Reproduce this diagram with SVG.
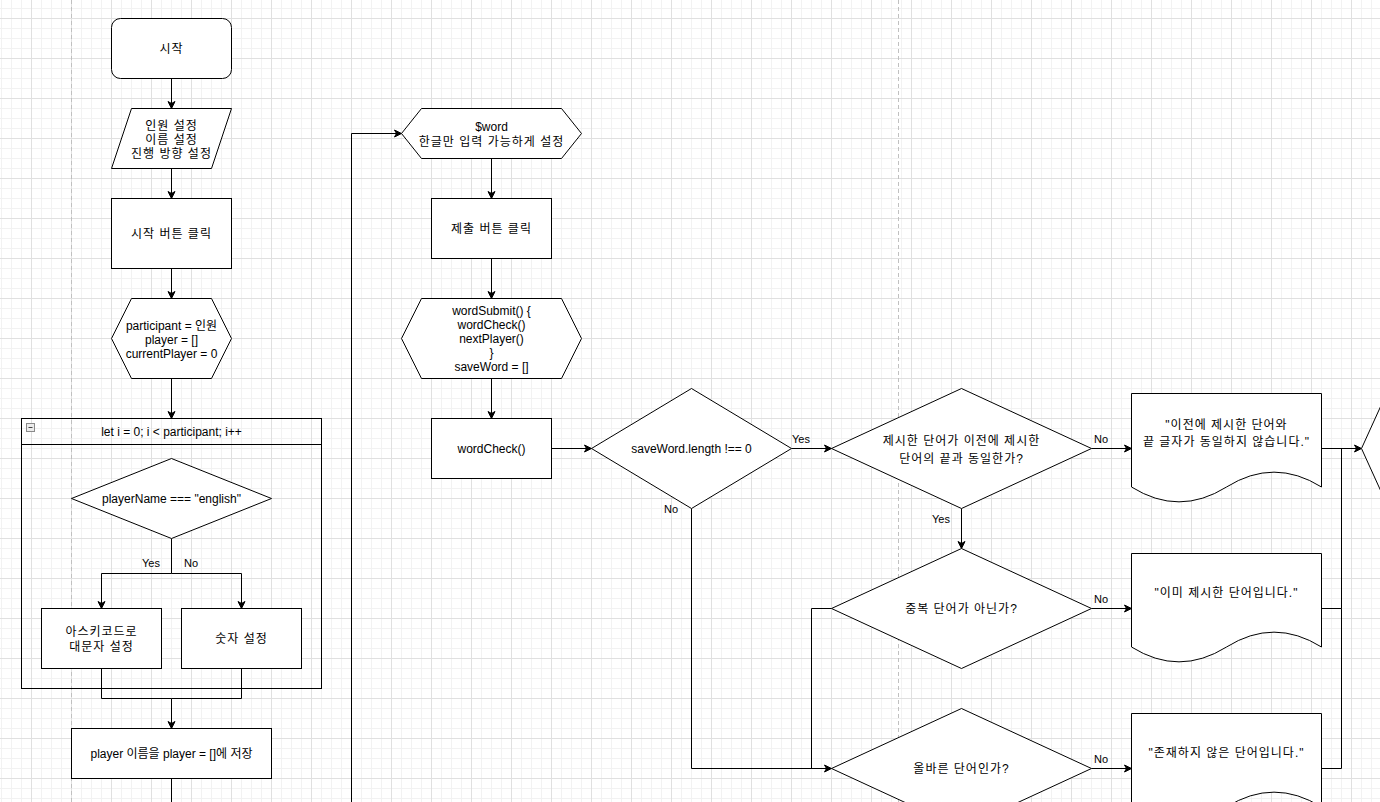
<svg xmlns="http://www.w3.org/2000/svg" width="1380" height="802" viewBox="0 0 1380 802">
<defs>
<pattern id="grid" x="31" y="18" width="40" height="40" patternUnits="userSpaceOnUse">
<path d="M10.5 0V40M20.5 0V40M30.5 0V40M0 10.5H40M0 20.5H40M0 30.5H40" stroke="#f2f2f2" stroke-width="1" fill="none"/>
<path d="M0.5 0V40M0 0.5H40" stroke="#e0e0e0" stroke-width="1" fill="none"/>
</pattern>
<marker id="arr" markerUnits="userSpaceOnUse" markerWidth="9" markerHeight="9" refX="7.5" refY="4" orient="auto" overflow="visible">
<path d="M0.5 0.5L7.5 4L0.5 7.5L2.5 4Z" fill="#000" stroke="#000" stroke-width="1"/>
</marker>
<style>
.n{fill:#fff;stroke:#000;stroke-width:1}
.e{fill:none;stroke:#000;stroke-width:1}
.a{marker-end:url(#arr)}
.t{font-family:"Liberation Sans","Noto Sans CJK KR",sans-serif;font-size:12px;fill:#000;text-anchor:middle}
.k{letter-spacing:1px}
.l{font-family:"Liberation Sans","Noto Sans CJK KR",sans-serif;font-size:11px;fill:#000;text-anchor:middle}
.pb{stroke:#c0c0c0;stroke-width:1;stroke-dasharray:4 3;fill:none}
</style>
</defs>
<rect x="0" y="0" width="1380" height="802" fill="#fff"/>
<rect x="0" y="0" width="1380" height="802" fill="url(#grid)"/>
<path class="pb" d="M71.5 0V802M898.5 0V802"/>

<g id="connectors">
<path class="e a" d="M171.5 78.5V108.5"/>
<path class="e a" d="M171.5 168.5V198.5"/>
<path class="e a" d="M171.5 268.5V298.5"/>
<path class="e a" d="M171.5 378.5V418.5"/>
<path class="e a" d="M171.5 538.5V573.5H101.5V608.5"/>
<path class="e a" d="M171.5 573.5H241.5V608.5"/>
<path class="e a" d="M101.5 668.5V698.5H171.5V728.5"/>
<path class="e" d="M241.5 668.5V698.5H171.5"/>
<path class="e" d="M171.5 778.5V802"/>
<path class="e a" d="M351.5 802V133.5H401.5"/>
<path class="e a" d="M491.5 158.5V198.5"/>
<path class="e a" d="M491.5 258.5V298.5"/>
<path class="e a" d="M491.5 378.5V418.5"/>
<path class="e a" d="M551.5 448.5H591.5"/>
<path class="e a" d="M791.5 448.5H831.5"/>
<path class="e a" d="M1091.5 448.5H1131.5"/>
<path class="e a" d="M961.5 508.5V548.5"/>
<path class="e a" d="M1091.5 608.5H1131.5"/>
<path class="e a" d="M691.5 508.5V768.5H831.5"/>
<path class="e" d="M831.5 608.5H811.5V768.5"/>
<path class="e a" d="M1091.5 768.5H1131.5"/>
<path class="e a" d="M1321.5 448.5H1361.5"/>
<path class="e" d="M1321.5 608.5H1341.5V448.5"/>
<path class="e" d="M1321.5 768.5H1341.5V608.5"/>
<text class="l" x="151" y="567">Yes</text>
<text class="l" x="191" y="567">No</text>
<text class="l" x="801" y="443">Yes</text>
<text class="l" x="1101" y="443">No</text>
<text class="l" x="941" y="523">Yes</text>
<text class="l" x="671" y="513">No</text>
<text class="l" x="1101" y="603">No</text>
<text class="l" x="1101" y="763">No</text>
</g>

<g id="start">
<rect class="n" x="111.5" y="18.5" width="120" height="60" rx="9" ry="9"/>
<text class="t k" x="171.5" y="53">시작</text>
</g>
<g id="input">
<polygon class="n" points="131.5,108.5 231.5,108.5 211.5,168.5 111.5,168.5"/>
<text class="t k"><tspan x="171.5" y="130">인원 설정</tspan><tspan x="171.5" y="144">이름 설정</tspan><tspan x="171.5" y="158">진행 방향 설정</tspan></text>
</g>
<g id="startBtn">
<rect class="n" x="111.5" y="198.5" width="120" height="70"/>
<text class="t k" x="171.5" y="238">시작 버튼 클릭</text>
</g>
<g id="init">
<polygon class="n" points="131.5,298.5 211.5,298.5 231.5,338.5 211.5,378.5 131.5,378.5 111.5,338.5"/>
<text class="t"><tspan x="171.5" y="329.5">participant = 인원</tspan><tspan x="171.5" y="343.5">player = []</tspan><tspan x="171.5" y="357.5">currentPlayer = 0</tspan></text>
</g>
<g id="loop">
<rect x="21.5" y="418.5" width="300" height="270" fill="none" stroke="#000"/>
<path d="M21.5 444.5H321.5" stroke="#000" fill="none"/>
<rect x="26.5" y="423.5" width="8" height="8" fill="#ececec" stroke="#8a8a8a"/>
<path d="M28.5 427.5H32.5" stroke="#444"/>
<text class="t" x="171.5" y="436">let i = 0; i &lt; participant; i++</text>
</g>
<g id="nameCheck">
<polygon class="n" points="171.5,458.5 271.5,498.5 171.5,538.5 71.5,498.5"/>
<text class="t" x="171.5" y="503">playerName === "english"</text>
</g>
<g id="ascii">
<rect class="n" x="41.5" y="608.5" width="120" height="60"/>
<text class="t k"><tspan x="101.5" y="636">아스키코드로</tspan><tspan x="101.5" y="650.5">대문자 설정</tspan></text>
</g>
<g id="number">
<rect class="n" x="181.5" y="608.5" width="120" height="60"/>
<text class="t k" x="241.5" y="643">숫자 설정</text>
</g>
<g id="savePlayer">
<rect class="n" x="71.5" y="728.5" width="200" height="50"/>
<text class="t" x="171.5" y="758">player 이름을 player = []에 저장</text>
</g>
<g id="word">
<polygon class="n" points="421.5,108.5 561.5,108.5 581.5,133.5 561.5,158.5 421.5,158.5 401.5,133.5"/>
<text class="t"><tspan x="491.5" y="131">$word</tspan><tspan class="k" x="491.5" y="145.5">한글만 입력 가능하게 설정</tspan></text>
</g>
<g id="submitBtn">
<rect class="n" x="431.5" y="198.5" width="120" height="60"/>
<text class="t k" x="491.5" y="233">제출 버튼 클릭</text>
</g>
<g id="wordSubmit">
<polygon class="n" points="421.5,298.5 561.5,298.5 581.5,338.5 561.5,378.5 421.5,378.5 401.5,338.5"/>
<text class="t"><tspan x="491.5" y="315">wordSubmit() {</tspan><tspan x="491.5" y="329">wordCheck()</tspan><tspan x="491.5" y="343">nextPlayer()</tspan><tspan x="491.5" y="357">}</tspan><tspan x="491.5" y="371">saveWord = []</tspan></text>
</g>
<g id="wordCheck">
<rect class="n" x="431.5" y="418.5" width="120" height="60"/>
<text class="t" x="491.5" y="453">wordCheck()</text>
</g>
<g id="lengthCheck">
<polygon class="n" points="691.5,388.5 791.5,448.5 691.5,508.5 591.5,448.5"/>
<text class="t" x="691.5" y="453">saveWord.length !== 0</text>
</g>
<g id="lastCharCheck">
<polygon class="n" points="961.5,388.5 1091.5,448.5 961.5,508.5 831.5,448.5"/>
<text class="t k"><tspan x="961.5" y="445">제시한 단어가 이전에 제시한</tspan><tspan x="961.5" y="462.5">단어의 끝과 동일한가?</tspan></text>
</g>
<g id="msgLastChar">
<path class="n" d="M1131.5 393.5H1321.5V487Q1274 457.3 1226.5 487Q1179 516.7 1131.5 487Z"/>
<text class="t k"><tspan x="1226.5" y="428.5">"이전에 제시한 단어와</tspan><tspan x="1226.5" y="446">끝 글자가 동일하지 않습니다."</tspan></text>
</g>
<g id="dupCheck">
<polygon class="n" points="961.5,548.5 1091.5,608.5 961.5,668.5 831.5,608.5"/>
<text class="t k" x="961.5" y="613">중복 단어가 아닌가?</text>
</g>
<g id="msgDup">
<path class="n" d="M1131.5 553.5H1321.5V647Q1274 617.3 1226.5 647Q1179 676.7 1131.5 647Z"/>
<text class="t k" x="1226.5" y="597">"이미 제시한 단어입니다."</text>
</g>
<g id="validCheck">
<polygon class="n" points="961.5,708.5 1091.5,768.5 961.5,828.5 831.5,768.5"/>
<text class="t k" x="961.5" y="773">올바른 단어인가?</text>
</g>
<g id="msgInvalid">
<path class="n" d="M1131.5 713.5H1321.5V807Q1274 777.3 1226.5 807Q1179 836.7 1131.5 807Z"/>
<text class="t k" x="1226.5" y="757">"존재하지 않은 단어입니다."</text>
</g>
<g id="nextDecision">
<polygon class="n" points="1361.5,448.5 1401.5,360.5 1441.5,448.5 1401.5,536.5"/>
</g>
</svg>
